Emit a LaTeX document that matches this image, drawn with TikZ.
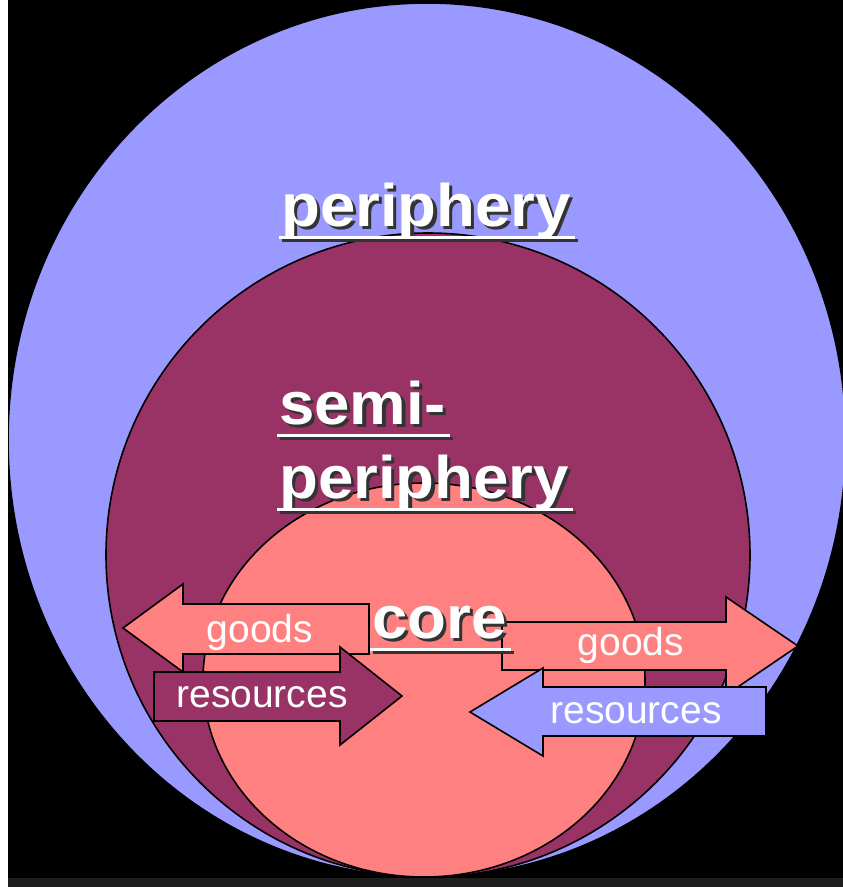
\documentclass[tikz,border=0pt]{standalone}
\usepackage{fontspec}
\setmainfont{Liberation Sans}
\usetikzlibrary{calc}
\definecolor{peri}{HTML}{9999FF}
\definecolor{semic}{HTML}{993366}
\definecolor{corec}{HTML}{FF8080}
\definecolor{stripc}{HTML}{1E1E1E}
\tikzset{
  zone/.style={draw=black, line width=1.6pt},
  arrowshape/.style={draw=black, line width=1.6pt, line join=miter},
  bigtxt/.style={anchor=base west, inner sep=0pt, font=\fontsize{60}{72}\selectfont\bfseries},
  smalltxt/.style={anchor=base, inner sep=0pt, text=white, font=\fontsize{39}{47}\selectfont},
  uline/.style={line width=3pt}
}
\newcommand\shadowlabel[4]{%
  \node[bigtxt] (#1) at (#2,#3) {\scalebox{1.06}[1]{\makebox[0pt][l]{\hspace{3pt}\raisebox{-3pt}{\textcolor{black!80}{#4}}}\textcolor{white}{#4}}};
  \draw[uline, black!80] ($(#1.base west)+(1,14)$) -- ($(#1.base east)+(7,14)$);
  \draw[uline, white] ($(#1.base west)+(-2,11)$) -- ($(#1.base east)+(4,11)$);
}
\begin{document}
\begin{tikzpicture}[x=1pt,y=-1pt]
\useasboundingbox (0,0) rectangle (843,887);
\fill[black] (0,0) rectangle (843,887);
\fill[white] (0,0) rectangle (8,887);
\fill[stripc] (8,878) rectangle (843,887);
\begin{scope}
\clip (8,0) rectangle (843,878);
\draw[zone, fill=peri] (427,440) ellipse [x radius=419, y radius=437];
\draw[zone, fill=semic] (428,555) ellipse [x radius=322, y radius=322];
\draw[zone, fill=corec] (424,680) ellipse [x radius=221, y radius=197];
\end{scope}
% arrows
\draw[arrowshape, fill=corec] (123,628) -- (183,584) -- (183,604) -- (369,604) -- (369,654) -- (183,654) -- (183,672) -- cycle;
\draw[arrowshape, fill=corec] (502,622) -- (726,622) -- (726,597) -- (798,646) -- (726,695) -- (726,670) -- (502,670) -- cycle;
\draw[arrowshape, fill=semic] (154,672) -- (340,672) -- (340,647) -- (402,696) -- (340,745) -- (340,721) -- (154,721) -- cycle;
\draw[arrowshape, fill=peri] (470,712) -- (543,668) -- (543,687) -- (766,687) -- (766,736) -- (543,736) -- (543,756) -- cycle;
% arrow labels
\node[smalltxt] (goodsL) at (260,642) {goods};
\node[smalltxt] (resL) at (262,707) {resources};
\node[smalltxt] (goodsR) at (631,655) {goods};
\node[smalltxt] (resR) at (636,723) {resources};
% zone labels
\shadowlabel{peri}{281}{226}{periphery}
\shadowlabel{semi}{279}{424}{semi-}
\shadowlabel{semib}{279}{498}{periphery}
\shadowlabel{core}{372}{638}{core}
\end{tikzpicture}
\end{document}
